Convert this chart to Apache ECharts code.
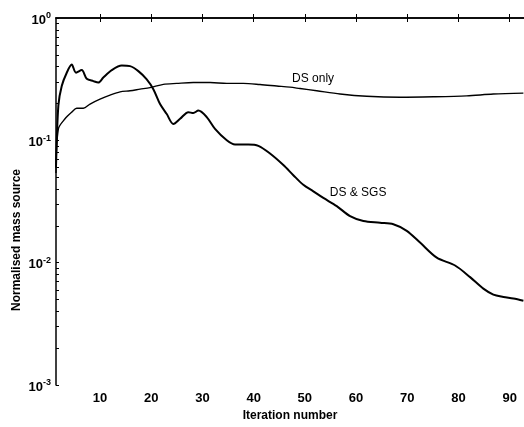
<!DOCTYPE html>
<html>
<head>
<meta charset="utf-8">
<script src="https://cdn.jsdelivr.net/npm/echarts@6/dist/echarts.min.js"></script>
<style>
  html, body { margin: 0; padding: 0; background: #fff; }
  #chart { width: 524px; height: 427px; }
</style>
</head>
<body>
<div id="chart"></div>
<script>
// data
var sgsIter = [1.4, 1.86, 2.52, 3.5, 4.47, 5.31, 6.43, 7.4, 8.69, 9.67, 10.64, 12.29, 14.24, 15.86, 17.48, 19.12, 20.41, 21.72, 23.03, 24.32, 25.63, 27.25, 28.22, 29.2, 30.84, 32.46, 34.75, 36.37, 38.96, 40.92, 43.2, 45.8, 47.75, 49.7, 51.66, 53.61, 56.23, 58.83, 61.43, 64.69, 67.29, 69.9, 72.5, 75.76, 79.34, 82.27, 84.86, 86.82, 88.77, 90.72, 92.68];
var sgsValue = [0.06, 0.192, 0.278, 0.357, 0.416, 0.357, 0.375, 0.319, 0.305, 0.297, 0.326, 0.375, 0.409, 0.404, 0.368, 0.315, 0.262, 0.198, 0.164, 0.136, 0.15, 0.17, 0.167, 0.175, 0.155, 0.124, 0.1, 0.0923, 0.0923, 0.0901, 0.078, 0.0628, 0.0519, 0.0433, 0.0383, 0.0338, 0.029, 0.024, 0.0219, 0.0212, 0.0206, 0.0182, 0.0146, 0.011, 0.00948, 0.00762, 0.00613, 0.00548, 0.00525, 0.00509, 0.00488];

var dsIter = [1.4, 1.86, 3.16, 4.47, 5.45, 6.74, 8.05, 10.0, 11.95, 13.91, 15.86, 17.81, 19.77, 22.36, 24.98, 28.22, 31.48, 34.75, 37.99, 41.25, 44.51, 47.1, 49.06, 52.32, 56.88, 62.09, 68.6, 75.1, 81.6, 86.8, 92.68];
var dsValue = [0.054, 0.124, 0.15, 0.17, 0.183, 0.183, 0.198, 0.217, 0.234, 0.249, 0.254, 0.262, 0.27, 0.287, 0.292, 0.297, 0.297, 0.292, 0.292, 0.286, 0.278, 0.272, 0.265, 0.254, 0.239, 0.229, 0.225, 0.227, 0.231, 0.239, 0.243];

var xTicks = [10, 20, 30, 40, 50, 60, 70, 80, 90];
var yExponents = [-3, -2, -1, 0];

// minor ticks 2..9 x 10^k, in log10 space
var yTicks = [];
yExponents.forEach(function (e) {
    yTicks.push(e);
    if (e < 0) {
        for (var m = 2; m <= 9; m++) yTicks.push(e + Math.log10(m));
    }
});

function pairs(xs, ys) {
    return xs.map(function (x, i) { return [x, ys[i]]; });
}

var font = 'Liberation Sans';
var chart = echarts.init(document.getElementById('chart'));

chart.setOption({
    animation: false,
    backgroundColor: '#fff',
    grid: { left: 56, right: 0, top: 18, bottom: 38 },
    xAxis: [{
        type: 'value', min: 1.4, max: 92.8,
        name: 'Iteration number', nameLocation: 'middle', nameGap: 25,
        nameTextStyle: { fontFamily: font, fontWeight: 'bold', fontSize: 12, color: '#000' },
        axisLine: { lineStyle: { color: '#000', width: 1.5 } },
        axisTick: { inside: true, length: 4, customValues: xTicks, lineStyle: { color: '#000' } },
        axisLabel: { customValues: xTicks, margin: 7, fontFamily: font, fontWeight: 'bold', fontSize: 13, color: '#000' },
        splitLine: { show: false }
    }, {
        type: 'value', min: 1.4, max: 92.8, position: 'top',
        axisLine: { lineStyle: { color: '#000', width: 1.5 } },
        axisTick: { inside: true, length: 4, customValues: xTicks, lineStyle: { color: '#000' } },
        axisLabel: { show: false },
        splitLine: { show: false }
    }],
    yAxis: [{
        type: 'log', logBase: 10, min: 0.001, max: 1,
        axisLine: { show: true, lineStyle: { color: '#000', width: 1.5 } },
        axisTick: { show: false },
        axisLabel: { show: false },
        splitLine: { show: false }
    }, {
        // tick / label axis in log10 units
        type: 'value', min: -3, max: 0, position: 'left',
        axisLine: { show: false },
        axisTick: { inside: true, length: 3, customValues: yTicks, lineStyle: { color: '#000' } },
        axisLabel: {
            customValues: yExponents, margin: 5,
            formatter: function (v) { return '{b|10}{s|' + v + '}'; },
            rich: {
                b: { fontFamily: font, fontWeight: 'bold', fontSize: 13, color: '#000', padding: [4, 0, 0, 0] },
                s: { fontFamily: font, fontWeight: 'bold', fontSize: 9, color: '#000', padding: [0, 0, 4, 0] }
            }
        },
        splitLine: { show: false }
    }],
    graphic: [{
        type: 'text', x: 17, y: 240, rotation: Math.PI / 2,
        style: {
            text: 'Normalised mass source', fill: '#000',
            font: 'bold 12px "Liberation Sans"', align: 'center', verticalAlign: 'middle'
        }
    }],
    series: [{
        name: 'DS only', type: 'line', showSymbol: false, smooth: 0.3,
        data: pairs(dsIter, dsValue),
        lineStyle: { color: '#000', width: 1.4 },
        markPoint: {
            symbolSize: 0,
            label: { show: true, formatter: 'DS only', fontFamily: font, fontSize: 12, color: '#000' },
            data: [{ coord: [51.6, 0.321] }]
        }
    }, {
        name: 'DS & SGS', type: 'line', showSymbol: false, smooth: 0.3,
        data: pairs(sgsIter, sgsValue),
        lineStyle: { color: '#000', width: 2 },
        markPoint: {
            symbolSize: 0,
            label: { show: true, formatter: 'DS & SGS', fontFamily: font, fontSize: 12, color: '#000' },
            data: [{ coord: [60.4, 0.037] }]
        }
    }]
});
</script>
</body>
</html>
